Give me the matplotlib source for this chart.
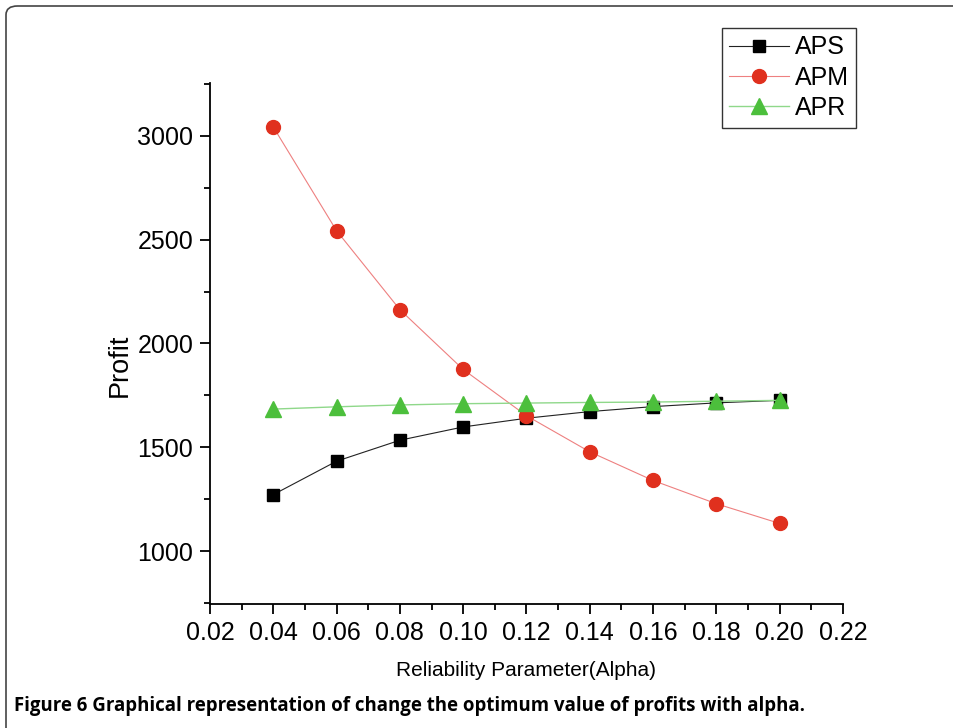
import matplotlib
matplotlib.use("Agg")
import matplotlib.pyplot as plt
from matplotlib.patches import FancyBboxPatch
from matplotlib.ticker import MultipleLocator

# reliability parameter and the three profit curves
alpha = [0.04, 0.06, 0.08, 0.10, 0.12, 0.14, 0.16, 0.18, 0.20]
aps = [1272, 1433, 1534, 1598, 1640, 1672, 1696, 1714, 1726]
apm = [3043, 2543, 2163, 1875, 1652, 1478, 1340, 1228, 1133]
apr = [1684, 1695, 1704, 1710, 1713, 1716, 1718, 1722, 1726]

caption = "Figure 6 Graphical representation of change the optimum value of profits with alpha."

plt.rcParams['font.family'] = ['Liberation Sans', 'DejaVu Sans']

fig = plt.figure(figsize=(9.54, 7.28), dpi=100, facecolor='white')

# rounded frame around the figure panel
frame = FancyBboxPatch((6 / 954, -0.2), 1.2, 1.2 - 6 / 728,
                       boxstyle="round,pad=0,rounding_size=0.012",
                       transform=fig.transFigure, fill=False,
                       edgecolor='#444444', linewidth=1.2)
fig.patches.append(frame)

ax = fig.add_axes([210 / 954, 1 - 604 / 728, 633 / 954, 521 / 728])

ax.plot(alpha, aps, color='#222222', linewidth=0.8, marker='s', markersize=8.5,
        markerfacecolor='black', markeredgecolor='black', label='APS')
ax.plot(alpha, apm, color='#ee8080', linewidth=0.8, marker='o', markersize=10,
        markerfacecolor='#e0301e', markeredgecolor='#e0301e', label='APM')
ax.plot(alpha, apr, color='#8fd88a', linewidth=1.0, marker='^', markersize=11,
        markerfacecolor='#4cbf3c', markeredgecolor='#4cbf3c', label='APR')

ax.set_xlim(0.02, 0.22)
ax.set_ylim(745, 3255)
ax.xaxis.set_minor_locator(MultipleLocator(0.01))
ax.yaxis.set_minor_locator(MultipleLocator(250))
ax.set_xticks([0.02 * i for i in range(1, 12)])
ax.set_xticklabels([f"{0.02 * i:.2f}" for i in range(1, 12)])
ax.set_yticks([1000, 1500, 2000, 2500, 3000])

for side in ('top', 'right'):
    ax.spines[side].set_visible(False)
for side in ('left', 'bottom'):
    ax.spines[side].set_linewidth(1.3)

ax.tick_params(which='major', direction='out', length=7, width=1.3,
               labelsize=18, pad=5)
ax.tick_params(which='minor', direction='out', length=4, width=1.3)

ax.set_ylabel('Profit', fontsize=19.5)
ax.yaxis.set_label_coords(133 / 954, 1 - 365 / 728, transform=fig.transFigure)
ax.set_xlabel('Reliability Parameter(Alpha)', fontsize=15, labelpad=12)

leg = ax.legend(loc='upper left', bbox_to_anchor=(722 / 954, 1 - 28 / 728),
                bbox_transform=fig.transFigure, fontsize=18, frameon=True,
                fancybox=False, edgecolor='black', handlelength=2.4,
                handletextpad=0.2, borderpad=0.3, labelspacing=0.25,
                borderaxespad=0)
leg.get_frame().set_linewidth(1.0)

fig.text(14 / 954, 1 - 706 / 728, caption, fontsize=13.4, fontweight='bold',
         family=['Open Sans', 'DejaVu Sans'], va='center', ha='left')

fig.savefig('out.png', dpi=100, facecolor='white')
